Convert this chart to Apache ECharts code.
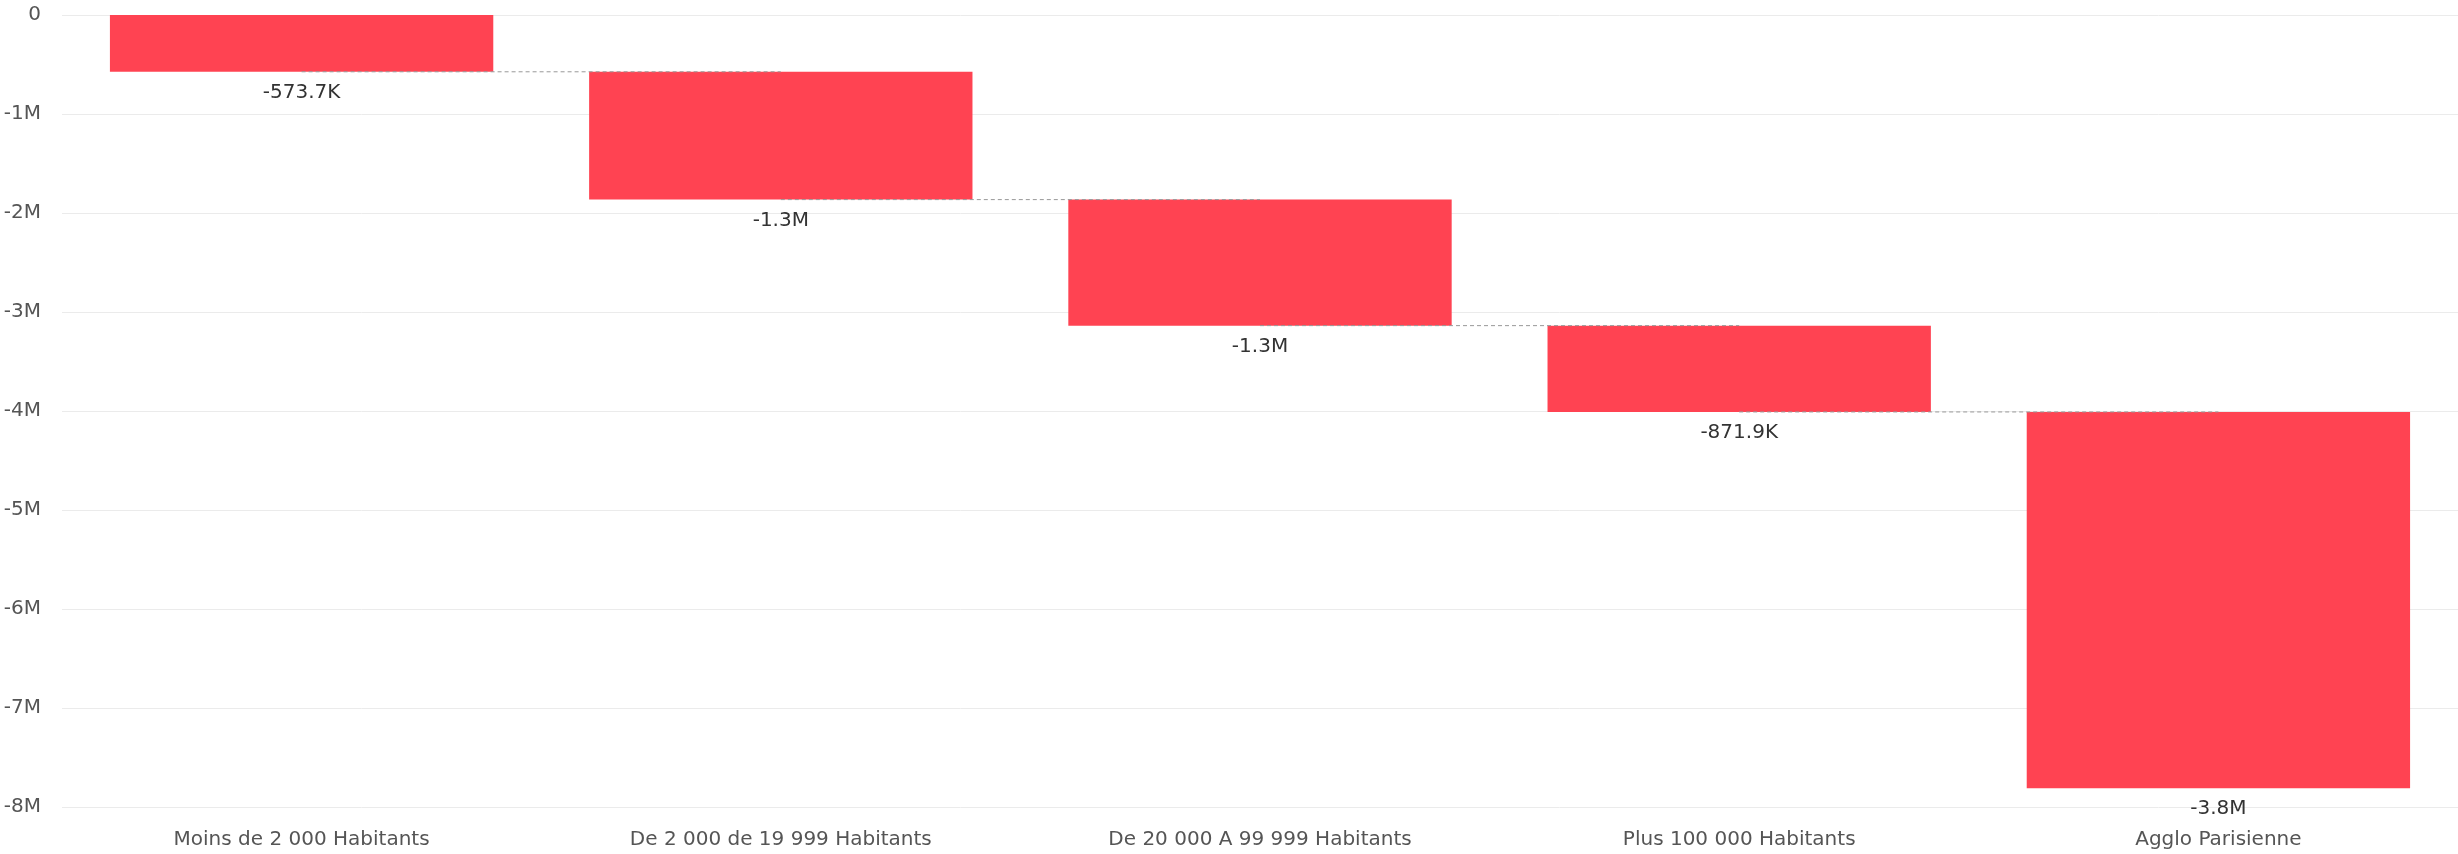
<!DOCTYPE html>
<html>
<head>
<meta charset="utf-8">
<script src="https://cdn.jsdelivr.net/npm/echarts@6/dist/echarts.min.js"></script>
<style>
html,body{margin:0;padding:0;background:#fff;}
#chart{width:2458px;height:854px;}
</style>
</head>
<body>
<div id="chart"></div>
<script>
const categories = ['Moins de 2 000 Habitants', 'De 2 000 de 19 999 Habitants', 'De 20 000 A 99 999 Habitants', 'Plus 100 000 Habitants', 'Agglo Parisienne'];
const deltas = [-573700, -1291000, -1273000, -871900, -3800000];
const yTicks = { min: -8000000, max: 0, interval: 1000000 };

const bases = [];
const ends = [];
let run = 0;
deltas.forEach(d => { bases.push(run); run += d; ends.push(run); });

function fmtVal(v) {
  const a = Math.abs(v);
  if (a >= 1e6) return (v / 1e6).toFixed(1) + 'M';
  if (a >= 1e3) return (v / 1e3).toFixed(1) + 'K';
  return String(v);
}
function fmtAxis(v) {
  if (v === 0) return '0';
  return (v / 1e6) + 'M';
}

const font = 'DejaVu Sans';
const chart = echarts.init(document.getElementById('chart'));
chart.setOption({
  animation: false,
  textStyle: { fontFamily: font },
  grid: { left: 62, right: 0, top: 15, bottom: 47, containLabel: false },
  xAxis: {
    type: 'category',
    data: categories,
    axisLine: { show: false },
    axisTick: { show: false },
    axisLabel: { color: '#555', fontSize: 20, margin: 23, fontFamily: font }
  },
  yAxis: {
    type: 'value',
    min: yTicks.min, max: yTicks.max, interval: yTicks.interval,
    axisLine: { show: false },
    axisTick: { show: false },
    splitLine: { lineStyle: { color: '#ebebeb', width: 1 } },
    axisLabel: { color: '#555', fontSize: 20, margin: 21, formatter: fmtAxis, fontFamily: font }
  },
  series: [
    {
      type: 'bar', stack: 'w', barWidth: '80%',
      itemStyle: { color: 'transparent' },
      data: bases, silent: true
    },
    {
      type: 'bar', stack: 'w', barWidth: '80%',
      itemStyle: { color: '#FF4352' },
      label: {
        show: true, position: 'bottom', distance: 11,
        color: '#333', fontSize: 20, fontFamily: font,
        formatter: p => fmtVal(p.value)
      },
      data: deltas
    },
    {
      type: 'custom', z: 5,
      data: ends.slice(0, ends.length - 1).map((v, i) => [i, v]),
      renderItem: function (params, api) {
        const i = api.value(0);
        const v = api.value(1);
        const p1 = api.coord([i, v]);
        const p2 = api.coord([i + 1, v]);
        return {
          type: 'line',
          shape: { x1: p1[0], y1: p1[1], x2: p2[0], y2: p2[1] },
          style: { stroke: '#999', lineWidth: 1, lineDash: [4, 3] }
        };
      }
    }
  ]
});
</script>
</body>
</html>
